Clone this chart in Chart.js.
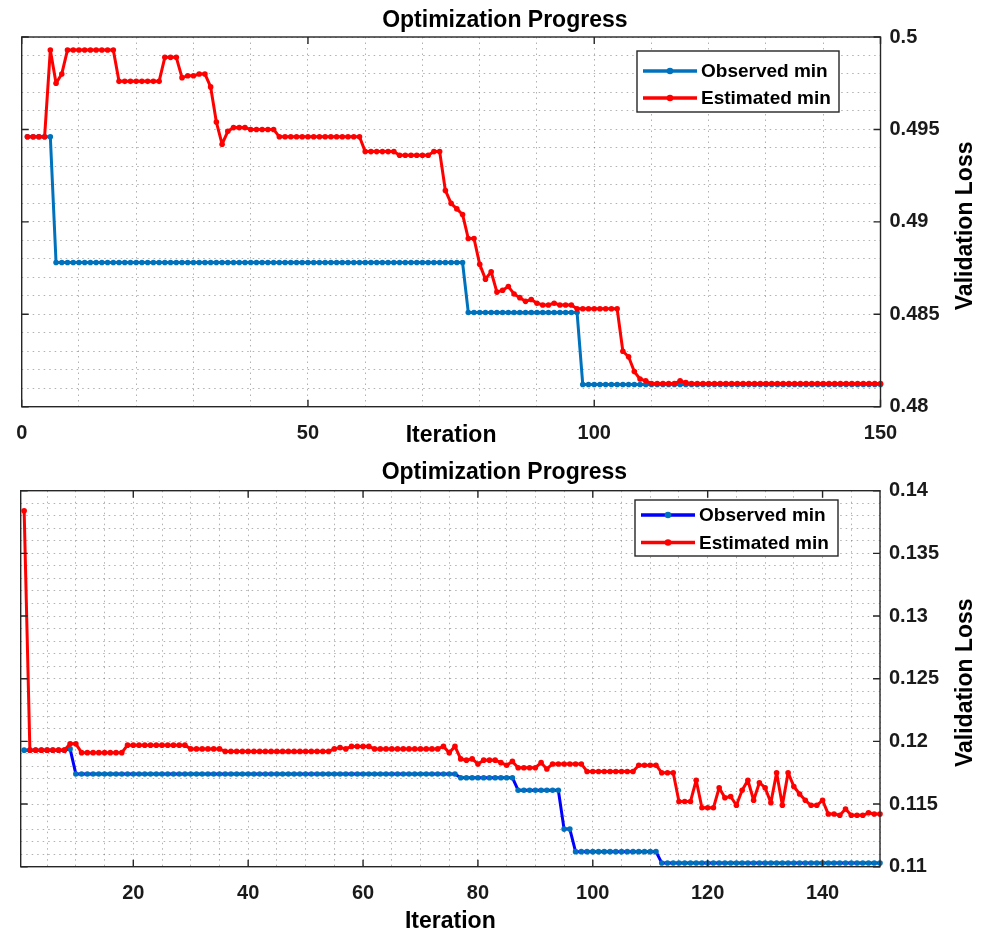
<!DOCTYPE html>
<html>
<head>
<meta charset="utf-8">
<script src="https://cdn.jsdelivr.net/npm/chart.js@4"></script>
<style>
  html, body { margin: 0; padding: 0; background: #fff; }
  #wrap { position: relative; width: 988px; height: 936px; }
  .panel { position: absolute; left: 0; width: 988px; }
</style>
</head>
<body>
<div id="wrap">
  <div class="panel" style="top:0;height:450px"><canvas id="topChart"></canvas></div>
  <div class="panel" style="top:450px;height:486px"><canvas id="bottomChart"></canvas></div>
</div>
<script>
const iterations = Array.from({ length: 150 }, (_, i) => i + 1);

// first run (upper panel)
const topObserved = [
  0.4946, 0.4946, 0.4946, 0.4946, 0.4946, 0.4878, 0.4878, 0.4878, 0.4878, 0.4878,
  0.4878, 0.4878, 0.4878, 0.4878, 0.4878, 0.4878, 0.4878, 0.4878, 0.4878, 0.4878,
  0.4878, 0.4878, 0.4878, 0.4878, 0.4878, 0.4878, 0.4878, 0.4878, 0.4878, 0.4878,
  0.4878, 0.4878, 0.4878, 0.4878, 0.4878, 0.4878, 0.4878, 0.4878, 0.4878, 0.4878,
  0.4878, 0.4878, 0.4878, 0.4878, 0.4878, 0.4878, 0.4878, 0.4878, 0.4878, 0.4878,
  0.4878, 0.4878, 0.4878, 0.4878, 0.4878, 0.4878, 0.4878, 0.4878, 0.4878, 0.4878,
  0.4878, 0.4878, 0.4878, 0.4878, 0.4878, 0.4878, 0.4878, 0.4878, 0.4878, 0.4878,
  0.4878, 0.4878, 0.4878, 0.4878, 0.4878, 0.4878, 0.4878, 0.4851, 0.4851, 0.4851,
  0.4851, 0.4851, 0.4851, 0.4851, 0.4851, 0.4851, 0.4851, 0.4851, 0.4851, 0.4851,
  0.4851, 0.4851, 0.4851, 0.4851, 0.4851, 0.4851, 0.4851, 0.4812, 0.4812, 0.4812,
  0.4812, 0.4812, 0.4812, 0.4812, 0.4812, 0.4812, 0.4812, 0.4812, 0.4812, 0.4812,
  0.4812, 0.4812, 0.4812, 0.4812, 0.4812, 0.4812, 0.4812, 0.4812, 0.4812, 0.4812,
  0.4812, 0.4812, 0.4812, 0.4812, 0.4812, 0.4812, 0.4812, 0.4812, 0.4812, 0.4812,
  0.4812, 0.4812, 0.4812, 0.4812, 0.4812, 0.4812, 0.4812, 0.4812, 0.4812, 0.4812,
  0.4812, 0.4812, 0.4812, 0.4812, 0.4812, 0.4812, 0.4812, 0.4812, 0.4812, 0.4812
];
const topEstimated = [
  0.4946, 0.4946, 0.4946, 0.4946, 0.4993, 0.4975, 0.4980, 0.4993, 0.4993, 0.4993,
  0.4993, 0.4993, 0.4993, 0.4993, 0.4993, 0.4993, 0.4976, 0.4976, 0.4976, 0.4976,
  0.4976, 0.4976, 0.4976, 0.4976, 0.4989, 0.4989, 0.4989, 0.4978, 0.4979, 0.4979,
  0.4980, 0.4980, 0.4973, 0.4954, 0.4942, 0.4949, 0.4951, 0.4951, 0.4951, 0.4950,
  0.4950, 0.4950, 0.4950, 0.4950, 0.4946, 0.4946, 0.4946, 0.4946, 0.4946, 0.4946,
  0.4946, 0.4946, 0.4946, 0.4946, 0.4946, 0.4946, 0.4946, 0.4946, 0.4946, 0.4938,
  0.4938, 0.4938, 0.4938, 0.4938, 0.4938, 0.4936, 0.4936, 0.4936, 0.4936, 0.4936,
  0.4936, 0.4938, 0.4938, 0.4917, 0.4910, 0.4907, 0.4904, 0.4891, 0.4891, 0.4877,
  0.4869, 0.4873, 0.4862, 0.4863, 0.4865, 0.4861, 0.4859, 0.4857, 0.4858, 0.4856,
  0.4855, 0.4855, 0.4856, 0.4855, 0.4855, 0.4855, 0.4853, 0.4853, 0.4853, 0.4853,
  0.4853, 0.4853, 0.4853, 0.4853, 0.4830, 0.4827, 0.4819, 0.4815, 0.4814, 0.48125,
  0.48125, 0.48125, 0.48125, 0.48125, 0.4814, 0.4813, 0.48125, 0.48125, 0.48125, 0.48125,
  0.48125, 0.48125, 0.48125, 0.48125, 0.48125, 0.48125, 0.48125, 0.48125, 0.48125, 0.48125,
  0.48125, 0.48125, 0.48125, 0.48125, 0.48125, 0.48125, 0.48125, 0.48125, 0.48125, 0.48125,
  0.48125, 0.48125, 0.48125, 0.48125, 0.48125, 0.48125, 0.48125, 0.48125, 0.48125, 0.48125
];

// second run (lower panel)
const bottomObserved = [
  0.1193, 0.1193, 0.1193, 0.1193, 0.1193, 0.1193, 0.1193, 0.1193, 0.1194, 0.1174,
  0.1174, 0.1174, 0.1174, 0.1174, 0.1174, 0.1174, 0.1174, 0.1174, 0.1174, 0.1174,
  0.1174, 0.1174, 0.1174, 0.1174, 0.1174, 0.1174, 0.1174, 0.1174, 0.1174, 0.1174,
  0.1174, 0.1174, 0.1174, 0.1174, 0.1174, 0.1174, 0.1174, 0.1174, 0.1174, 0.1174,
  0.1174, 0.1174, 0.1174, 0.1174, 0.1174, 0.1174, 0.1174, 0.1174, 0.1174, 0.1174,
  0.1174, 0.1174, 0.1174, 0.1174, 0.1174, 0.1174, 0.1174, 0.1174, 0.1174, 0.1174,
  0.1174, 0.1174, 0.1174, 0.1174, 0.1174, 0.1174, 0.1174, 0.1174, 0.1174, 0.1174,
  0.1174, 0.1174, 0.1174, 0.1174, 0.1174, 0.1174, 0.1171, 0.1171, 0.1171, 0.1171,
  0.1171, 0.1171, 0.1171, 0.1171, 0.1171, 0.1171, 0.1161, 0.1161, 0.1161, 0.1161,
  0.1161, 0.1161, 0.1161, 0.1161, 0.1130, 0.1130, 0.1112, 0.1112, 0.1112, 0.1112,
  0.1112, 0.1112, 0.1112, 0.1112, 0.1112, 0.1112, 0.1112, 0.1112, 0.1112, 0.1112,
  0.1112, 0.1103, 0.1103, 0.1103, 0.1103, 0.1103, 0.1103, 0.1103, 0.1103, 0.1103,
  0.1103, 0.1103, 0.1103, 0.1103, 0.1103, 0.1103, 0.1103, 0.1103, 0.1103, 0.1103,
  0.1103, 0.1103, 0.1103, 0.1103, 0.1103, 0.1103, 0.1103, 0.1103, 0.1103, 0.1103,
  0.1103, 0.1103, 0.1103, 0.1103, 0.1103, 0.1103, 0.1103, 0.1103, 0.1103, 0.1103
];
const bottomEstimated = [
  0.1384, 0.1193, 0.1193, 0.1193, 0.1193, 0.1193, 0.1193, 0.1193, 0.1198, 0.1198,
  0.1191, 0.1191, 0.1191, 0.1191, 0.1191, 0.1191, 0.1191, 0.1191, 0.1197, 0.1197,
  0.1197, 0.1197, 0.1197, 0.1197, 0.1197, 0.1197, 0.1197, 0.1197, 0.1197, 0.1194,
  0.1194, 0.1194, 0.1194, 0.1194, 0.1194, 0.1192, 0.1192, 0.1192, 0.1192, 0.1192,
  0.1192, 0.1192, 0.1192, 0.1192, 0.1192, 0.1192, 0.1192, 0.1192, 0.1192, 0.1192,
  0.1192, 0.1192, 0.1192, 0.1192, 0.1194, 0.1195, 0.1194, 0.1196, 0.1196, 0.1196,
  0.1196, 0.1194, 0.1194, 0.1194, 0.1194, 0.1194, 0.1194, 0.1194, 0.1194, 0.1194,
  0.1194, 0.1194, 0.1194, 0.1196, 0.1191, 0.1196, 0.1186, 0.1185, 0.1186, 0.1182,
  0.1185, 0.1185, 0.1185, 0.1183, 0.1181, 0.1184, 0.1179, 0.1179, 0.1179, 0.1179,
  0.1183, 0.1178, 0.1182, 0.1182, 0.1182, 0.1182, 0.1182, 0.1182, 0.1176, 0.1176,
  0.1176, 0.1176, 0.1176, 0.1176, 0.1176, 0.1176, 0.1176, 0.1181, 0.1181, 0.1181,
  0.1181, 0.1175, 0.1175, 0.1175, 0.1152, 0.1152, 0.1152, 0.1169, 0.1147, 0.1147,
  0.1147, 0.1163, 0.1155, 0.1156, 0.1149, 0.1161, 0.1169, 0.1153, 0.1167, 0.1163,
  0.1151, 0.1175, 0.1149, 0.1175, 0.1164, 0.1158, 0.1153, 0.1149, 0.1149, 0.1153,
  0.1142, 0.1142, 0.1141, 0.1146, 0.1141, 0.1141, 0.1141, 0.1143, 0.1142, 0.1142
];

// labelled ticks
const topXLabels = [0, 50, 100, 150];
const topYLabels = [0.48, 0.485, 0.49, 0.495, 0.5];
const bottomXLabels = [20, 40, 60, 80, 100, 120, 140];
const bottomYLabels = [0.11, 0.115, 0.12, 0.125, 0.13, 0.135, 0.14];

const FONT = "'Liberation Sans', Arial, sans-serif";
const MATLAB_BLUE = "#0072BD";
const RED = "#FF0000";

// grid positions every `step` (the dotted minor grid)
function steps(from, to, step) {
  const out = [];
  const n = Math.round((to - from) / step);
  for (let k = 0; k <= n; k++) out.push(Math.round((from + k * step) * 1e6) / 1e6);
  return out;
}
const hasLabel = (list, v) => list.some((l) => Math.abs(l - v) < 1e-9);

// box, inward tick marks, rotated y label and legend
const framePlugin = {
  id: "frame",
  afterDraw(chart, args, opts) {
    const { ctx, chartArea: a } = chart;
    const x = chart.scales.x;
    const y = chart.scales.y;
    ctx.save();
    ctx.setLineDash([]);
    ctx.strokeStyle = "#262626";
    ctx.lineWidth = 1.4;
    ctx.strokeRect(a.left, a.top, a.right - a.left, a.bottom - a.top);

    ctx.beginPath();
    opts.xLabels.forEach((v) => {
      const px = x.getPixelForValue(v);
      ctx.moveTo(px, a.bottom);
      ctx.lineTo(px, a.bottom - 7);
      ctx.moveTo(px, a.top);
      ctx.lineTo(px, a.top + 7);
    });
    opts.yLabels.forEach((v) => {
      const py = y.getPixelForValue(v);
      ctx.moveTo(a.left, py);
      ctx.lineTo(a.left + 7, py);
      ctx.moveTo(a.right, py);
      ctx.lineTo(a.right - 7, py);
    });
    ctx.stroke();

    ctx.save();
    ctx.fillStyle = "#000";
    ctx.font = `bold 23px ${FONT}`;
    ctx.textAlign = "center";
    ctx.textBaseline = "middle";
    ctx.translate(opts.yTitleX, (a.top + a.bottom) / 2 + opts.yTitleShift);
    ctx.rotate(-Math.PI / 2);
    ctx.fillText("Validation Loss", 0, 0);
    ctx.restore();

    const lg = opts.legend;
    ctx.fillStyle = "#fff";
    ctx.fillRect(lg.x, lg.y, lg.w, lg.h);
    ctx.strokeStyle = "#262626";
    ctx.lineWidth = 1.4;
    ctx.strokeRect(lg.x, lg.y, lg.w, lg.h);
    chart.data.datasets.forEach((ds, i) => {
      const cy = lg.rows[i];
      ctx.strokeStyle = ds.borderColor;
      ctx.lineWidth = 3.5;
      ctx.beginPath();
      ctx.moveTo(lg.x + 6, cy);
      ctx.lineTo(lg.x + 60, cy);
      ctx.stroke();
      ctx.fillStyle = ds.pointBackgroundColor;
      ctx.beginPath();
      ctx.arc(lg.x + 33, cy, 3.3, 0, Math.PI * 2);
      ctx.fill();
      ctx.fillStyle = "#000";
      ctx.font = `bold 19px ${FONT}`;
      ctx.textAlign = "left";
      ctx.textBaseline = "middle";
      ctx.fillText(ds.label, lg.x + 64, cy + 1);
    });
    ctx.restore();
  },
};

function buildChart(id, o) {
  const toPoints = (vals) => vals.map((v, i) => ({ x: iterations[i], y: v }));
  const lineStyle = {
    borderWidth: 3,
    borderJoinStyle: "round",
    borderCapStyle: "round",
    pointRadius: 2.8,
    pointBorderWidth: 0,
    pointHoverRadius: 2.8,
    tension: 0,
    clip: false,
  };
  return new Chart(document.getElementById(id), {
    type: "line",
    data: {
      datasets: [
        {
          label: "Observed min",
          data: toPoints(o.observed),
          borderColor: o.observedLine,
          pointBackgroundColor: MATLAB_BLUE,
          pointBorderColor: MATLAB_BLUE,
          order: 1,
          ...lineStyle,
        },
        {
          label: "Estimated min",
          data: toPoints(o.estimated),
          borderColor: RED,
          pointBackgroundColor: RED,
          pointBorderColor: RED,
          order: 0,
          ...lineStyle,
        },
      ],
    },
    options: {
      responsive: true,
      maintainAspectRatio: false,
      animation: false,
      layout: { padding: { left: o.left, right: 0, top: 0, bottom: 0 } },
      plugins: {
        legend: { display: false },
        tooltip: { enabled: false },
        title: {
          display: true,
          text: "Optimization Progress",
          color: "#000",
          font: { family: FONT, size: 23, weight: "bold" },
          padding: o.titlePad,
        },
        frame: {
          xLabels: o.xLabels,
          yLabels: o.yLabels,
          yTitleX: 966,
          yTitleShift: 4,
          legend: o.legend,
        },
      },
      scales: {
        x: {
          type: "linear",
          min: o.xMin,
          max: 150,
          afterBuildTicks: (s) => { s.ticks = o.xGrid.map((v) => ({ value: v })); },
          afterFit: (s) => { s.height = o.xAxisH; },
          grid: { color: "rgba(100,100,100,0.5)", lineWidth: 1, drawTicks: false },
          border: { display: false, dash: [1.5, 4] },
          ticks: {
            autoSkip: false,
            maxRotation: 0,
            padding: 15,
            color: "#1a1a1a",
            font: { family: FONT, size: 20, weight: "bold" },
            callback: (v) => (hasLabel(o.xLabels, v) ? String(v) : ""),
          },
          title: {
            display: true,
            text: "Iteration",
            color: "#000",
            font: { family: FONT, size: 23, weight: "bold" },
            padding: { top: 0, bottom: 1 },
          },
        },
        y: {
          position: "right",
          min: o.yMin,
          max: o.yMax,
          afterBuildTicks: (s) => { s.ticks = o.yGrid.map((v) => ({ value: v })); },
          afterFit: (s) => { s.width = o.yAxisW; },
          grid: { color: "rgba(100,100,100,0.5)", lineWidth: 1, drawTicks: false },
          border: { display: false, dash: [1.5, 4] },
          ticks: {
            autoSkip: false,
            padding: 9,
            color: "#1a1a1a",
            font: { family: FONT, size: 20, weight: "bold" },
            callback: (v) => {
              const l = o.yLabels.find((t) => Math.abs(t - v) < 1e-9);
              return l === undefined ? "" : String(l);
            },
          },
        },
      },
    },
    plugins: [framePlugin],
  });
}

buildChart("topChart", {
  observed: topObserved,
  estimated: topEstimated,
  observedLine: MATLAB_BLUE,
  xMin: 0,
  yMin: 0.48,
  yMax: 0.5,
  xGrid: steps(0, 150, 10),
  yGrid: steps(0.48, 0.5, 0.001),
  xLabels: topXLabels,
  yLabels: topYLabels,
  left: 21.7,
  yAxisW: 107.5,
  xAxisH: 43.3,
  titlePad: { top: 7, bottom: 2.4 },
  legend: { x: 637, y: 51, w: 202, h: 61, rows: [71, 98] },
});

buildChart("bottomChart", {
  observed: bottomObserved,
  estimated: bottomEstimated,
  observedLine: "#0000FF",
  xMin: 0.4,
  yMin: 0.11,
  yMax: 0.14,
  xGrid: steps(5, 150, 5),
  yGrid: steps(0.11, 0.14, 0.001),
  xLabels: bottomXLabels,
  yLabels: bottomYLabels,
  left: 20.7,
  yAxisW: 108,
  xAxisH: 69.3,
  titlePad: { top: 9, bottom: 4.1 },
  legend: { x: 635, y: 50, w: 203, h: 56, rows: [65, 92.5] },
});
</script>
</body>
</html>
